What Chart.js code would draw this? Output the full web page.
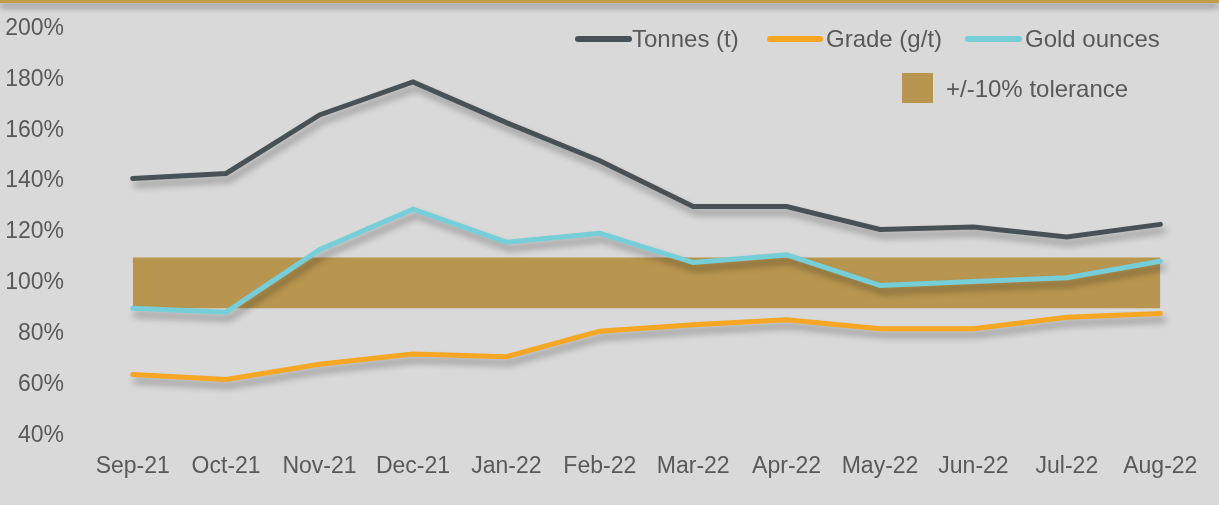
<!DOCTYPE html>
<html>
<head>
<meta charset="utf-8">
<script src="https://cdn.jsdelivr.net/npm/chart.js@4"></script>
<style>
  body { margin: 0; background: #d9d9d9; }
  #wrap { position: relative; width: 1219px; height: 505px; overflow: hidden; }
  #topbar { position: absolute; left: 0; top: 0; width: 1219px; height: 3px; background: #c49b4a; box-shadow: 0 4px 6px rgba(0,0,0,0.5); z-index: 2; }
  .lg { position: absolute; font-family: "Liberation Sans", Arial, sans-serif; font-size: 24px; color: #595959; line-height: 24px; white-space: nowrap; }
  .mk { position: absolute; height: 6px; border-radius: 3px; }
</style>
</head>
<body>
<div id="wrap">
  <div id="topbar"></div>
  <canvas id="myChart"></canvas>
  <div class="mk" style="left:575px;top:36px;width:57px;background:#485256"></div>
  <div class="lg" style="left:632px;top:27px">Tonnes (t)</div>
  <div class="mk" style="left:767px;top:36px;width:56px;background:#f5a623"></div>
  <div class="lg" style="left:826px;top:27px">Grade (g/t)</div>
  <div class="mk" style="left:965px;top:36px;width:57px;background:#76ced8"></div>
  <div class="lg" style="left:1025px;top:27px">Gold ounces</div>
  <div style="position:absolute;left:902px;top:73px;width:31px;height:30px;background:#b8964f"></div>
  <div class="lg" style="left:946px;top:77px">+/-10% tolerance</div>
</div>
<script>
var months = ['Sep-21', 'Oct-21', 'Nov-21', 'Dec-21', 'Jan-22', 'Feb-22', 'Mar-22', 'Apr-22', 'May-22', 'Jun-22', 'Jul-22', 'Aug-22'];
var tonnes = [141, 143, 166, 179, 163, 148, 130, 130, 121, 122, 118, 123];
var grade = [64, 62, 68, 72, 71, 81, 83.5, 85.5, 82, 82, 86.5, 88];
var goldOunces = [90, 88.5, 113, 129, 116, 119.5, 108, 111, 99, 100.5, 102, 108.5];
var tolUpper = [110, 110, 110, 110, 110, 110, 110, 110, 110, 110, 110, 110];
var tolLower = 90;
var yMin = 40, yMax = 200, yStep = 20;

// soft drop shadow under the lines
var shadowPlugin = {
  id: 'shadow',
  beforeDatasetDraw: function(chart, args) {
    var ds = chart.data.datasets[args.index];
    if (!ds.shadow) return;
    var ctx = chart.ctx;
    ctx.save();
    ctx.shadowColor = 'rgba(0,0,0,0.33)';
    ctx.shadowBlur = 7;
    ctx.shadowOffsetX = 3;
    ctx.shadowOffsetY = 6;
  },
  afterDatasetDraw: function(chart, args) {
    var ds = chart.data.datasets[args.index];
    if (!ds.shadow) return;
    chart.ctx.restore();
  }
};

var font = { family: '"Liberation Sans", Arial, sans-serif', size: 23 };

var ctx = document.getElementById('myChart').getContext('2d');
var myChart = new Chart(ctx, {
  type: 'line',
  data: {
    labels: months,
    datasets: [
      {
        label: 'Tonnes (t)',
        data: tonnes,
        borderColor: '#485256',
        borderWidth: 5,
        pointRadius: 0,
        borderCapStyle: 'round',
        shadow: true,
        order: 1
      },
      {
        label: 'Grade (g/t)',
        data: grade,
        borderColor: '#f5a623',
        borderWidth: 5,
        pointRadius: 0,
        borderCapStyle: 'round',
        shadow: true,
        order: 3
      },
      {
        label: 'Gold ounces',
        data: goldOunces,
        borderColor: '#76ced8',
        borderWidth: 5,
        pointRadius: 0,
        borderCapStyle: 'round',
        shadow: true,
        order: 2
      },
      {
        label: '+/-10% tolerance',
        data: tolUpper,
        borderWidth: 0,
        borderColor: 'rgba(0,0,0,0)',
        backgroundColor: '#b8964f',
        pointRadius: 0,
        fill: { value: tolLower },
        order: 10
      }
    ]
  },
  options: {
    responsive: true,
    maintainAspectRatio: false,
    animation: false,
    layout: { padding: { top: 28.5, right: 12, left: 0, bottom: 0 } },
    plugins: {
      legend: { display: false },
      tooltip: { enabled: false }
    },
    scales: {
      x: {
        offset: true,
        grid: { display: false, drawTicks: false },
        border: { display: false },
        ticks: { color: '#595959', font: font, padding: 17, maxRotation: 0, autoSkip: false },
        afterFit: function(scale) { scale.height = 69.5; }
      },
      y: {
        min: yMin,
        max: yMax,
        // invisible tick marks give the gap between labels and plot
        grid: { display: false, drawTicks: true, tickLength: 22 },
        border: { display: false },
        ticks: {
          stepSize: yStep,
          color: '#595959',
          font: font,
          padding: 0,
          callback: function(v) { return v + '%'; }
        },
        afterFit: function(scale) { scale.width = 86; }
      }
    }
  },
  plugins: [shadowPlugin]
});
</script>
</body>
</html>
